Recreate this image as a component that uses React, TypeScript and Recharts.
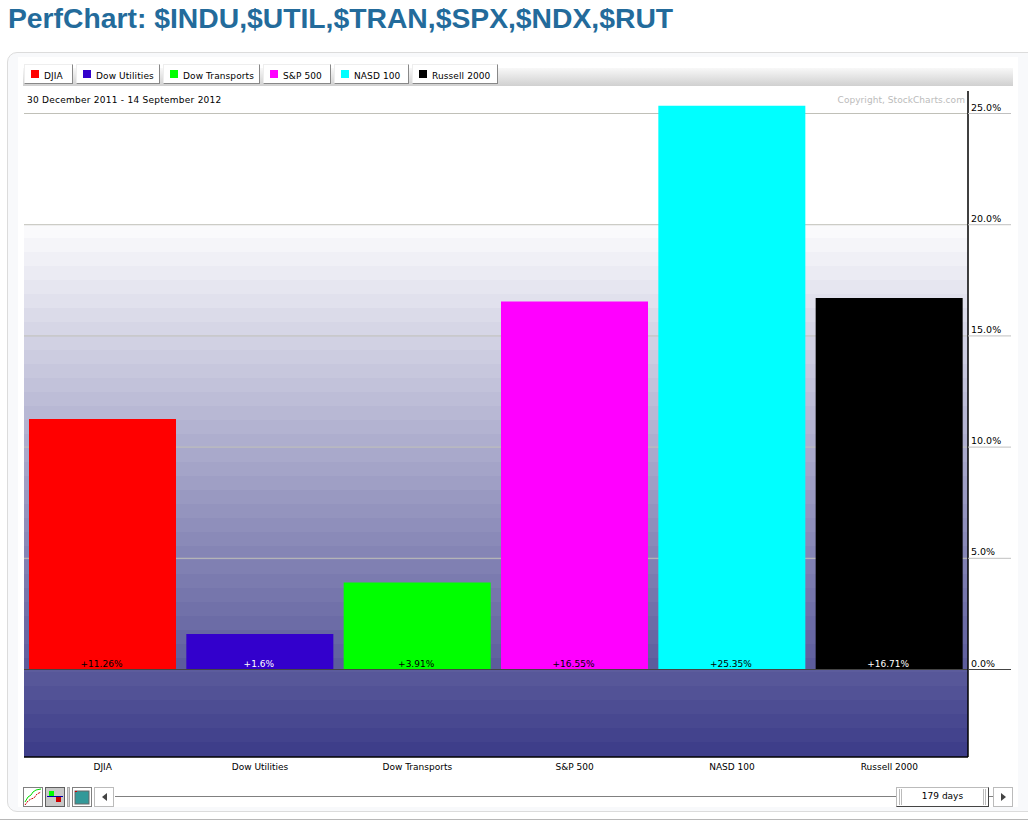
import React from 'react';
import { BarChart, Bar, XAxis, YAxis, CartesianGrid, ReferenceLine, Cell } from 'recharts';

const categories = ['DJIA', 'Dow Utilities', 'Dow Transports', 'S&P 500', 'NASD 100', 'Russell 2000'];
const changes = [11.26, 1.6, 3.91, 16.55, 25.35, 16.71];
const barColors = ['#ff0000', '#3300cc', '#00ff00', '#ff00ff', '#00ffff', '#000000'];
const labelColors = ['#000000', '#ffffff', '#000000', '#000000', '#000000', '#ffffff'];
const yTicks = [0, 5, 10, 15, 20, 25];
const legendLefts = [24, 76, 163, 263, 334, 412];
const legendWidths = [49, 84, 97, 68, 75, 86];

const data = categories.map((name, i) => ({ name, change: changes[i] }));

const FONT = '"DejaVu Sans", sans-serif';

// plot area is y 91..757, background is flat white down to 224 then 14px bands
const PLOT_TOP = 91;
const PLOT_H = 666;
const bandStops: React.ReactElement[] = [];
for (let k = -1; k < 38; k++) {
  const t = k < 0 ? 0 : (k + 1) / 38;
  const r = Math.round(255 - t * 193);
  const b = Math.round(255 - t * 117);
  const color = `rgb(${r},${r},${b})`;
  const from = k < 0 ? 0 : (224 + 14 * k - PLOT_TOP) / PLOT_H;
  const to = k < 0 ? (224 - PLOT_TOP) / PLOT_H : Math.min(1, (224 + 14 * (k + 1) - PLOT_TOP) / PLOT_H);
  bandStops.push(<stop key={`a${k}`} offset={from} stopColor={color} />);
  bandStops.push(<stop key={`b${k}`} offset={to} stopColor={color} />);
}

const RightTick = (props: any) => {
  const { x, y, payload } = props;
  return (
    <g>
      <line x1={x - 8} x2={x + 35} y1={y} y2={y} stroke={payload.value === 0 ? '#444444' : '#c0c0c0'} />
      <text x={x - 5} y={y - 3} fontSize={9.5} fontFamily={FONT} fill="#000">
        {payload.value.toFixed(1)}%
      </text>
    </g>
  );
};

const BarLabel = (props: any) => {
  const { x, y, width, height, index, value } = props;
  return (
    <text x={x + width / 2 - 1} y={y + height - 3} textAnchor="middle" fontSize={9} fontFamily={FONT} fill={labelColors[index]}>
      +{value}%
    </text>
  );
};

const raised = { borderTop: '1px solid #eee', borderLeft: '1px solid #eee', borderRight: '1px solid #888', borderBottom: '1px solid #888', boxSizing: 'border-box' as const, position: 'absolute' as const, background: '#fff' };
const iconBtn = { position: 'absolute' as const, top: 787, width: 20, height: 20, boxSizing: 'border-box' as const, border: '1px solid #808080', background: '#fff' };
const grip = { position: 'absolute' as const, top: 1, width: 3, height: 16, boxSizing: 'border-box' as const, borderLeft: '1px solid #bbb', borderRight: '1px solid #bbb' };

const App = () => (
  <div style={{ position: 'absolute', left: 0, top: 0, width: 1028, height: 822, overflow: 'hidden', background: '#fff' }}>
    <div style={{ position: 'absolute', left: 8, top: 0, fontFamily: '"Liberation Sans", Arial, sans-serif', fontWeight: 700, fontSize: 28.3, lineHeight: '37px', color: '#236b9b', whiteSpace: 'nowrap' }}>
      PerfChart: $INDU,$UTIL,$TRAN,$SPX,$NDX,$RUT
    </div>

    {/* outer panel */}
    <div style={{ position: 'absolute', left: 7, top: 52, width: 1040, height: 760, boxSizing: 'border-box', border: '1px solid #dcdcdc', borderRadius: 10, background: '#f8f9fb' }} />
    <div style={{ position: 'absolute', left: 18, top: 57, width: 1000, height: 750, background: '#fff' }} />
    <div style={{ position: 'absolute', left: 0, top: 819, width: 1028, height: 1, background: '#b8b8b8' }} />

    {/* legend strip */}
    <div style={{ position: 'absolute', left: 23, top: 68, width: 990, height: 18, background: 'linear-gradient(#f8f8f8, #d0d0d0)' }} />
    {categories.map((name, i) => (
      <div key={name} style={{ ...raised, left: legendLefts[i], top: 64, width: legendWidths[i], height: 20 }}>
        <div style={{ position: 'absolute', left: 6, top: 5, width: 8, height: 8, background: barColors[i] }} />
        <div style={{ position: 'absolute', left: 19, top: 5, fontFamily: FONT, fontSize: 9, letterSpacing: 0.1, lineHeight: '13px', color: '#000', whiteSpace: 'nowrap' }}>{name}</div>
      </div>
    ))}

    <div style={{ position: 'absolute', left: 0, top: 0 }}>
      <BarChart width={1028} height={822} data={data} barSize={147} margin={{ top: PLOT_TOP, right: 0, bottom: 0, left: 24 }}>
        <defs>
          <linearGradient id="plotBg" x1="0" y1="0" x2="0" y2="1">
            {bandStops}
          </linearGradient>
        </defs>
        <CartesianGrid vertical={false} stroke="#c0c0b8" fill="url(#plotBg)" horizontalValues={yTicks} />
        <XAxis
          dataKey="name"
          interval={0}
          height={65}
          tickLine={false}
          tickMargin={1}
          axisLine={{ stroke: '#000', strokeWidth: 1.5 }}
          tick={{ fontSize: 9, fontFamily: FONT, fill: '#000' }}
        />
        <YAxis
          orientation="right"
          width={60}
          domain={[-3.934, 26.012]}
          ticks={yTicks}
          interval={0}
          tickLine={false}
          axisLine={{ stroke: '#000', strokeWidth: 1.5 }}
          tick={<RightTick />}
        />
        <Bar dataKey="change" isAnimationActive={false} label={<BarLabel />}>
          {data.map((entry, i) => (
            <Cell key={entry.name} fill={barColors[i]} />
          ))}
        </Bar>
        <ReferenceLine y={0} stroke="#444444" />
      </BarChart>
    </div>

    <div style={{ position: 'absolute', left: 27, top: 94, fontFamily: FONT, fontSize: 9, letterSpacing: 0.25, lineHeight: '13px', color: '#000', whiteSpace: 'nowrap' }}>
      30 December 2011 - 14 September 2012
    </div>
    <div style={{ position: 'absolute', right: 63, top: 94, fontFamily: FONT, fontSize: 9, letterSpacing: 0.05, lineHeight: '13px', color: '#bbbbbb', whiteSpace: 'nowrap' }}>
      Copyright, StockCharts.com
    </div>

    {/* bottom toolbar */}
    <div style={{ ...iconBtn, left: 23 }}>
      <svg width={18} height={18}>
        <polyline points="1,14 4,9 7,7 9,4 12,2 17,1" fill="none" stroke="#00dd00" strokeWidth={1} />
        <polyline points="1,17 4,13 7,11 10,10 13,6 17,4" fill="none" stroke="#cc0000" strokeWidth={1} strokeDasharray="2 1" />
      </svg>
    </div>
    <div style={{ ...iconBtn, left: 45, background: '#c8c8c8', border: '1px solid #606060' }}>
      <svg width={18} height={18}>
        <rect x={3} y={3} width={5} height={5} fill="#00ff00" />
        <line x1={1} x2={17} y1={8.5} y2={8.5} stroke="#0000aa" />
        <rect x={10} y={9} width={5} height={5} fill="#cc0000" />
      </svg>
    </div>
    <div style={{ position: 'absolute', left: 67, top: 787, width: 3, height: 20, background: '#d8d8d8', border: '1px solid #aaa', boxSizing: 'border-box' }} />
    <div style={{ ...iconBtn, left: 72 }}>
      <svg width={18} height={18}>
        <rect x={2} y={3} width={14} height={13} fill="#339999" stroke="#666" />
        <rect x={2} y={3} width={2} height={1} fill="#cc0000" />
      </svg>
    </div>
    <div style={{ ...iconBtn, left: 94, borderColor: '#bbb' }}>
      <svg width={18} height={18}>
        <polygon points="7,9 12,5 12,13" fill="#444" />
      </svg>
    </div>
    <div style={{ position: 'absolute', left: 115, top: 796, width: 878, height: 1, background: '#808080' }} />
    <div style={{ ...raised, left: 896, top: 787, width: 93, height: 20, borderRight: '1px solid #444', borderBottom: '1px solid #444', borderTop: '1px solid #bbb', borderLeft: '1px solid #bbb', fontFamily: FONT, fontSize: 9, lineHeight: '17px', textAlign: 'center', color: '#000' }}>
      179 days
      <div style={{ ...grip, left: 2 }} />
      <div style={{ ...grip, right: 2 }} />
    </div>
    <div style={{ ...iconBtn, left: 993, borderColor: '#bbb' }}>
      <svg width={18} height={18}>
        <polygon points="12,9 7,5 7,13" fill="#444" />
      </svg>
    </div>
  </div>
);

export default App;
